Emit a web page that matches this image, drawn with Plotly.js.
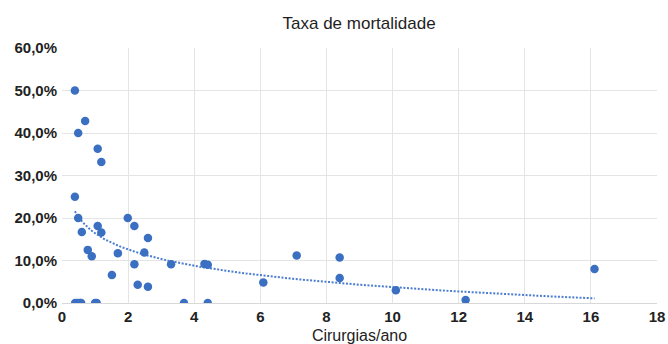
<!DOCTYPE html>
<html>
<head>
<meta charset="utf-8">
<script src="https://cdn.plot.ly/plotly-3.0.1.min.js"></script>
<style>html,body{margin:0;padding:0;background:#fff;}#chart{width:668px;height:344px;}</style>
</head>
<body>
<div id="chart"></div>
<script>
// Cirurgias/ano (x) and Taxa de mortalidade (y, fraction)
var surgeriesPerYear = [0.39, 0.70, 0.49, 1.08, 1.19, 0.39, 0.49, 0.60, 0.78, 0.90, 1.08, 1.19, 1.51, 1.69, 1.99, 2.19, 2.60, 2.49, 2.19, 2.29, 2.60, 3.30, 4.31, 4.41, 6.09, 7.10, 8.40, 8.40, 10.10, 12.21, 16.11, 0.40, 0.47, 0.54, 0.58, 1.00, 1.05, 3.69, 4.41];
var mortalityRate    = [0.500, 0.428, 0.400, 0.363, 0.332, 0.250, 0.200, 0.167, 0.125, 0.110, 0.181, 0.166, 0.066, 0.117, 0.200, 0.181, 0.153, 0.119, 0.091, 0.043, 0.038, 0.091, 0.092, 0.090, 0.048, 0.112, 0.107, 0.059, 0.030, 0.007, 0.080, 0, 0, 0, 0, 0, 0, 0, 0];
var xTickVals = [0, 2, 4, 6, 8, 10, 12, 14, 16, 18];
var yTickVals = [0, 0.1, 0.2, 0.3, 0.4, 0.5, 0.6];
// logarithmic trend line as shown in the picture: y = trendIntercept + trendSlope * ln(x)
var trendIntercept = 0.164;
var trendSlope = -0.0551;

var xmin = Math.min.apply(null, surgeriesPerYear), xmax = Math.max.apply(null, surgeriesPerYear);
var tx = [], ty = [];
for (var k = 0; k <= 200; k++) {
  var xv = xmin + (xmax - xmin) * k / 200;
  tx.push(xv); ty.push(trendIntercept + trendSlope * Math.log(xv));
}

var blue = '#3a6fc2';
var data = [
  {x: tx, y: ty, type: 'scatter', mode: 'lines', line: {color: '#4a7cd0', width: 2, dash: '2px,1.6px'}, hoverinfo: 'skip'},
  {x: surgeriesPerYear, y: mortalityRate, type: 'scatter', mode: 'markers', marker: {color: blue, size: 8.5}}
];
var font = 'Liberation Sans, Arial, sans-serif';
var layout = {
  width: 668, height: 344,
  margin: {l: 62, r: 11, t: 48, b: 41},
  paper_bgcolor: '#fff', plot_bgcolor: '#fff',
  showlegend: false,
  separators: ',.',
  font: {family: font, color: '#222', size: 15},
  title: {text: 'Taxa de mortalidade', x: 0.5375, xanchor: 'center', y: 0.933, yanchor: 'middle', font: {size: 17, color: '#1e1e1e', family: font}},
  xaxis: {
    range: [0, 18], tickvals: xTickVals, ticktext: xTickVals.map(String),
    showgrid: true, gridcolor: '#e4e4e4', gridwidth: 1, zeroline: false, automargin: false,
    showline: false, mirror: false, ticks: '', ticklen: 0, ticklabelstandoff: 3,
    tickfont: {size: 15, color: '#222', family: font, weight: 'bold'},
    title: {text: 'Cirurgias/ano', standoff: 6, font: {size: 16, color: '#222', family: font}}
  },
  yaxis: {
    range: [0, 0.6], tickvals: yTickVals, tickformat: '.1%',
    showgrid: true, gridcolor: '#e4e4e4', gridwidth: 1, zeroline: true, zerolinecolor: '#d8d8d8',
    showline: false, ticks: '', ticklen: 0, ticklabelstandoff: 4,
    tickfont: {size: 15, color: '#222', family: font, weight: 'bold'}
  }
};
Plotly.newPlot('chart', data, layout, {displayModeBar: false, staticPlot: true});
</script>
</body>
</html>
